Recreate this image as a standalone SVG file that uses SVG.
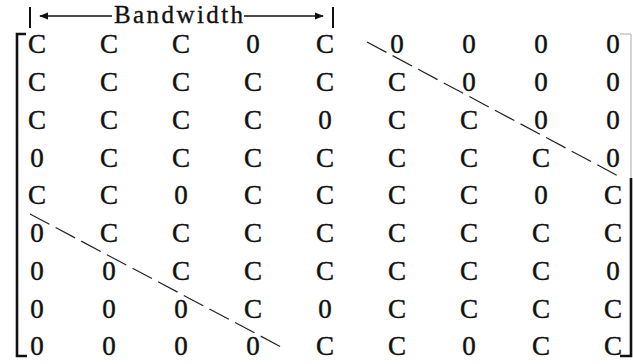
<svg xmlns="http://www.w3.org/2000/svg" width="633" height="364" viewBox="0 0 633 364">
  <defs>
    <marker id="head" viewBox="0 0 10 10" refX="9" refY="5" markerWidth="9" markerHeight="9" markerUnits="userSpaceOnUse" orient="auto-start-reverse">
      <path d="M0,1 L10,5 L0,9 Z" fill="#111"/>
    </marker>
    <style>
      .cell { font-family: "Liberation Serif", "Times New Roman", serif; font-size: 27px; fill: #111; stroke: #111; stroke-width: 0.45; text-anchor: middle; }
      .label { font-family: "Liberation Serif", "Times New Roman", serif; font-size: 25px; fill: #111; stroke: #111; stroke-width: 0.35; }
      .bracket { fill: none; stroke: #111; stroke-width: 2.6; }
      .tick { stroke: #111; stroke-width: 2; }
      .diag { fill: none; stroke: #222; stroke-width: 1.2; stroke-dasharray: 22 7; }
      .arrow { stroke: #111; stroke-width: 1.6; }
    </style>
  </defs>

  <rect width="633" height="364" fill="#fff"/>

  <!-- bandwidth measure above the matrix -->
  <g id="bandwidth">
    <line class="tick" x1="30" y1="7" x2="30" y2="28"/>
    <line class="tick" x1="333" y1="7" x2="333" y2="28"/>
    <text class="label" x="114" y="23" textLength="129" lengthAdjust="spacing">Bandwidth</text>
  </g>

  <!-- matrix brackets -->
  <g id="brackets">
    <path class="bracket" d="M26,34 H17 V356 H27"/>
    <path d="M620,34 H631 V178" fill="none" stroke="#aaa" stroke-width="1"/>
    <path class="bracket" d="M631,178 V356 H620"/>
  </g>

  <!-- matrix entries, one group per row -->
  <g id="row1">
    <text class="cell" x="37" y="53">C</text><text class="cell" x="109" y="53">C</text><text class="cell" x="181" y="53">C</text>
    <text class="cell" x="253" y="53">0</text><text class="cell" x="325" y="53">C</text><text class="cell" x="397" y="53">0</text>
    <text class="cell" x="469" y="53">0</text><text class="cell" x="541" y="53">0</text><text class="cell" x="613" y="53">0</text>
  </g>
  <g id="row2">
    <text class="cell" x="37" y="91">C</text><text class="cell" x="109" y="91">C</text><text class="cell" x="181" y="91">C</text>
    <text class="cell" x="253" y="91">C</text><text class="cell" x="325" y="91">C</text><text class="cell" x="397" y="91">C</text>
    <text class="cell" x="469" y="91">0</text><text class="cell" x="541" y="91">0</text><text class="cell" x="613" y="91">0</text>
  </g>
  <g id="row3">
    <text class="cell" x="37" y="129">C</text><text class="cell" x="109" y="129">C</text><text class="cell" x="181" y="129">C</text>
    <text class="cell" x="253" y="129">C</text><text class="cell" x="325" y="129">0</text><text class="cell" x="397" y="129">C</text>
    <text class="cell" x="469" y="129">C</text><text class="cell" x="541" y="129">0</text><text class="cell" x="613" y="129">0</text>
  </g>
  <g id="row4">
    <text class="cell" x="37" y="167">0</text><text class="cell" x="109" y="167">C</text><text class="cell" x="181" y="167">C</text>
    <text class="cell" x="253" y="167">C</text><text class="cell" x="325" y="167">C</text><text class="cell" x="397" y="167">C</text>
    <text class="cell" x="469" y="167">C</text><text class="cell" x="541" y="167">C</text><text class="cell" x="613" y="167">0</text>
  </g>
  <g id="row5">
    <text class="cell" x="37" y="204">C</text><text class="cell" x="109" y="204">C</text><text class="cell" x="181" y="204">0</text>
    <text class="cell" x="253" y="204">C</text><text class="cell" x="325" y="204">C</text><text class="cell" x="397" y="204">C</text>
    <text class="cell" x="469" y="204">C</text><text class="cell" x="541" y="204">0</text><text class="cell" x="613" y="204">C</text>
  </g>
  <g id="row6">
    <text class="cell" x="37" y="242">0</text><text class="cell" x="109" y="242">C</text><text class="cell" x="181" y="242">C</text>
    <text class="cell" x="253" y="242">C</text><text class="cell" x="325" y="242">C</text><text class="cell" x="397" y="242">C</text>
    <text class="cell" x="469" y="242">C</text><text class="cell" x="541" y="242">C</text><text class="cell" x="613" y="242">C</text>
  </g>
  <g id="row7">
    <text class="cell" x="37" y="280">0</text><text class="cell" x="109" y="280">0</text><text class="cell" x="181" y="280">C</text>
    <text class="cell" x="253" y="280">C</text><text class="cell" x="325" y="280">C</text><text class="cell" x="397" y="280">C</text>
    <text class="cell" x="469" y="280">C</text><text class="cell" x="541" y="280">C</text><text class="cell" x="613" y="280">0</text>
  </g>
  <g id="row8">
    <text class="cell" x="37" y="318">0</text><text class="cell" x="109" y="318">0</text><text class="cell" x="181" y="318">0</text>
    <text class="cell" x="253" y="318">C</text><text class="cell" x="325" y="318">0</text><text class="cell" x="397" y="318">C</text>
    <text class="cell" x="469" y="318">C</text><text class="cell" x="541" y="318">C</text><text class="cell" x="613" y="318">C</text>
  </g>
  <g id="row9">
    <text class="cell" x="37" y="355">0</text><text class="cell" x="109" y="355">0</text><text class="cell" x="181" y="355">0</text>
    <text class="cell" x="253" y="355">0</text><text class="cell" x="325" y="355">C</text><text class="cell" x="397" y="355">C</text>
    <text class="cell" x="469" y="355">0</text><text class="cell" x="541" y="355">C</text><text class="cell" x="613" y="355">C</text>
  </g>

  <!-- connectors: bandwidth arrows and the dashed band edges -->
  <g id="connectors">
    <line class="arrow" x1="112" y1="16" x2="40" y2="16" marker-end="url(#head)"/>
    <line class="arrow" x1="244" y1="16" x2="323" y2="16" marker-end="url(#head)"/>
    <line class="diag" x1="367" y1="42" x2="622" y2="178"/>
    <line class="diag" x1="30" y1="214" x2="285" y2="349"/>
  </g>
</svg>
